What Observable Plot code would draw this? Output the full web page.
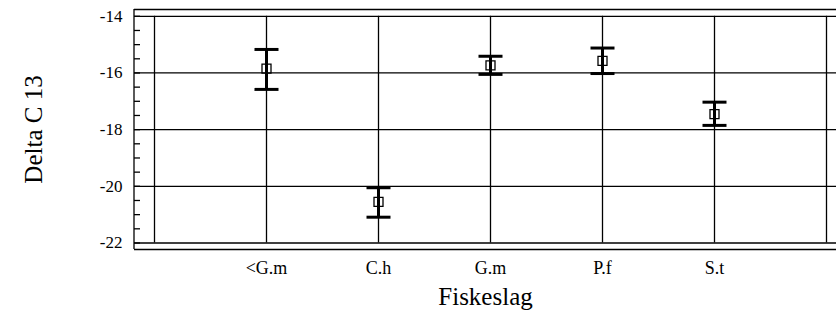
<!DOCTYPE html>
<html>
<head>
<meta charset="utf-8">
<script src="https://cdn.jsdelivr.net/npm/d3@7"></script>
<script src="https://cdn.jsdelivr.net/npm/@observablehq/plot@0.6"></script>
<style>
  html, body { margin: 0; padding: 0; background: #fff; overflow: hidden; }
  svg { display: block; }
</style>
</head>
<body>
<div id="chart"></div>
<script>
// Data
const categories = ["<G.m", "C.h", "G.m", "P.f", "S.t"];
const means = [-15.85, -20.55, -15.73, -15.57, -17.45];
const lows  = [-16.58, -21.09, -16.05, -16.02, -17.85];
const highs = [-15.17, -20.05, -15.41, -15.12, -17.03];
const yMajorTicks = [-22, -20, -18, -16, -14];
const yMinorTicks = d3.range(-22, -13.99, 0.5);
const padCats = ["\u2002", "\u2003"]; // empty slots at both ends
const xLabel = "Fiskeslag";
const yLabel = "Delta C 13";

const data = categories.map((c, i) => ({cat: c, mean: means[i], lo: lows[i], hi: highs[i]}));
const xDomain = [padCats[0], ...categories, padCats[1]];
const yDomain = [-22.23, -13.76];

const capSymbol = {
  draw(context) {
    context.moveTo(-12, 0);
    context.lineTo(12, 0);
  }
};

const serif = "'Liberation Serif', 'Times New Roman', serif";

// left edge of the plot box (only the left side; top and bottom are ruleY)
const leftEdge = (index, scales, values, dims) => {
  const g = d3.create("svg:line")
    .attr("x1", dims.marginLeft).attr("x2", dims.marginLeft)
    .attr("y1", scales.y(yDomain[0])).attr("y2", scales.y(yDomain[1]))
    .attr("stroke", "#000").attr("stroke-width", 1.3);
  return g.node();
};

const chart = Plot.plot({
  width: 836,
  height: 315,
  marginLeft: 134,
  marginRight: 0,
  marginTop: 9,
  marginBottom: 66,
  style: {fontFamily: serif, color: "#000", background: "#fff"},
  x: {type: "point", domain: xDomain, range: [154, 826], padding: 0, round: false, axis: null},
  y: {domain: yDomain, axis: null},
  marks: [
    leftEdge,
    Plot.ruleY(yDomain, {stroke: "#000", strokeWidth: 1.3}),
    Plot.ruleY(yMajorTicks, {stroke: "#000", strokeWidth: 1.3}),
    Plot.ruleX(xDomain, {y1: yMajorTicks[0], y2: yMajorTicks[yMajorTicks.length - 1], stroke: "#000", strokeWidth: 1.3}),
    Plot.axisY({anchor: "left", ticks: yMinorTicks, tickSize: 6, dx: 6, tickFormat: () => "", stroke: "#000", strokeWidth: 1.3, label: null}),
    Plot.axisY({anchor: "left", ticks: yMajorTicks, tickSize: 0, tickPadding: 12, fontSize: 17, tickFormat: d => String(d), label: null, fill: "#000", fontFamily: serif}),
    Plot.axisX({anchor: "bottom", ticks: categories, tickSize: 0, tickPadding: 12, fontSize: 18, label: null, fill: "#000", fontFamily: serif}),
    Plot.ruleX(data, {x: "cat", y1: "lo", y2: "hi", stroke: "#000", strokeWidth: 3}),
    Plot.dot(data, {x: "cat", y: "lo", symbol: capSymbol, stroke: "#000", strokeWidth: 3, fill: "none"}),
    Plot.dot(data, {x: "cat", y: "hi", symbol: capSymbol, stroke: "#000", strokeWidth: 3, fill: "none"}),
    Plot.dot(data, {x: "cat", y: "mean", symbol: "square", r: 5.08, stroke: "#000", strokeWidth: 1.3, fill: "none"}),
    Plot.text([xLabel], {frameAnchor: "bottom", dy: 55, fontSize: 25, fill: "#000", fontFamily: serif}),
    Plot.text([yLabel], {frameAnchor: "left", dx: -101, rotate: -90, textAnchor: "middle", fontSize: 25, fill: "#000", fontFamily: serif})
  ]
});
document.getElementById("chart").appendChild(chart);
</script>
</body>
</html>
